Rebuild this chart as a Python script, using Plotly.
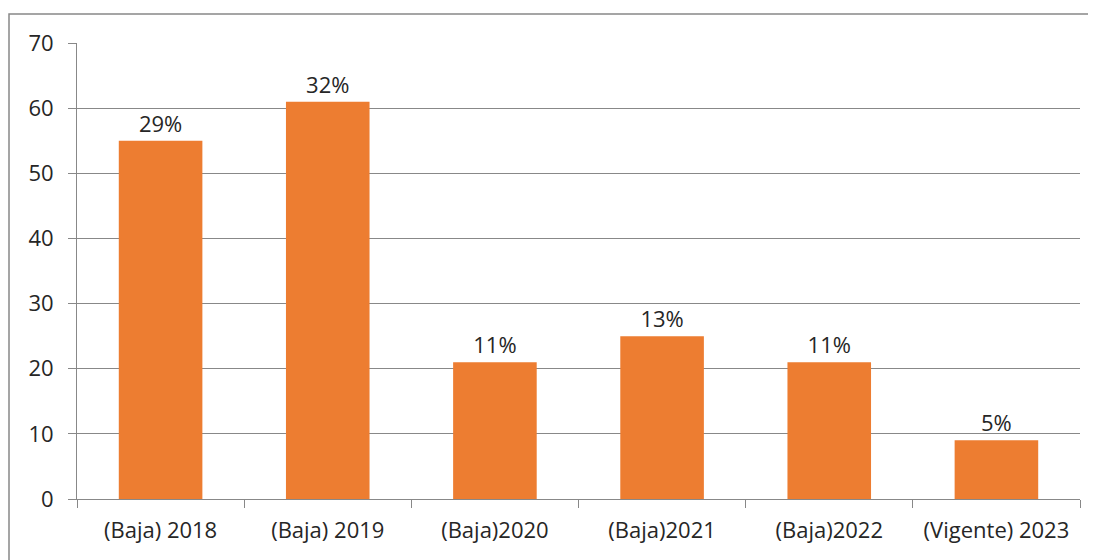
import plotly.graph_objects as go

categories = ["(Baja) 2018", "(Baja) 2019", "(Baja)2020", "(Baja)2021", "(Baja)2022", "(Vigente) 2023"]
values = [55, 61, 21, 25, 21, 9]
labels = ["29%", "32%", "11%", "13%", "11%", "5%"]

OFF = 8  # page body margin
W, H = 1096 - OFF, 560 - OFF
ml, mr, mt, mb = 77 - OFF, 16, 43 - OFF, 61
pw = W - ml - mr
ph = H - mt - mb
FS = 22

fig = go.Figure(go.Bar(
    x=categories, y=values, text=labels, textposition="outside",
    marker=dict(color="#ED7D31", line=dict(width=0)),
    textfont=dict(size=FS, color="#262626"),
    cliponaxis=False,
))

fig.update_layout(
    width=W, height=H,
    margin=dict(l=ml, r=mr, t=mt, b=mb, pad=0, autoexpand=False),
    paper_bgcolor="white", plot_bgcolor="white",
    bargap=0.5, showlegend=False,
    font=dict(family="'Open Sans', sans-serif", size=FS, color="#262626"),
    xaxis=dict(type="category", tickson="boundaries", ticks="outside", ticklen=8,
               tickcolor="#888888", showline=True, linecolor="#888888", linewidth=1,
               showgrid=False, tickfont=dict(size=FS, color="#262626"),
               ticklabelstandoff=12, automargin=False),
    yaxis=dict(range=[0, 70], dtick=10, ticks="outside", ticklen=8, tickcolor="#888888",
               showline=True, linecolor="#888888", linewidth=1, automargin=False,
               showgrid=True, gridcolor="#888888", gridwidth=1, zeroline=False,
               tickfont=dict(size=FS, color="#262626"), ticklabelstandoff=10),
    shapes=[dict(type="rect", xref="paper", yref="paper",
                 x0=(9 - OFF - ml) / pw, x1=(W + 20 - ml) / pw,
                 y0=(mt + ph - (H + 20)) / ph, y1=(mt + ph - (14 - OFF)) / ph,
                 line=dict(color="#888888", width=1.5), fillcolor="rgba(0,0,0,0)",
                 layer="below")],
)

fig.write_html("out.html")
